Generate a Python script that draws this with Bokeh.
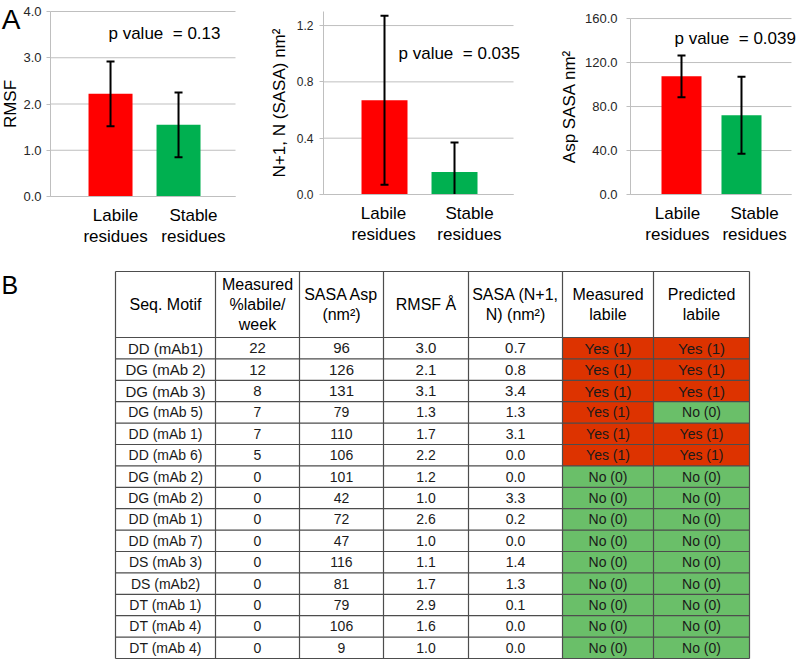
from bokeh.plotting import figure
from bokeh.layouts import column, row
from bokeh.models import (Range1d, FixedTicker, ColumnDataSource, Label,
                          NumeralTickFormatter, CustomJSTickFormatter)
from bokeh.embed import file_html
from bokeh.resources import INLINE
from bokeh.core.properties import value

# ---------------- data ----------------
categories = ["Labile\nresidues", "Stable\nresidues"]
bar_colors = ["#FF0000", "#00B050"]

rmsf_mean = [2.22, 1.55]
rmsf_err = [0.70, 0.70]
nsasa_mean = [0.67, 0.16]
nsasa_err = [0.60, 0.21]
asp_mean = [107.5, 72.0]
asp_err = [19.0, 35.0]

p_value_texts = ["p value\u00a0 = 0.13", "p value\u00a0 = 0.035", "p value\u00a0 = 0.039"]
y_titles = ["RMSF", "N+1, N (SASA) nm\u00b2", "Asp SASA nm\u00b2"]
yticks_rmsf = [0, 1, 2, 3, 4]
yticks_nsasa = [0, 0.4, 0.8, 1.2]
yticks_asp = [0, 40, 80, 120, 160]

headers = ["Seq. Motif", "Measured\n%labile/\nweek", "SASA Asp\n(nm\u00b2)", "RMSF \u00c5",
           "SASA (N+1,\nN) (nm\u00b2)", "Measured\nlabile", "Predicted\nlabile"]
motifs = ["DD (mAb1)", "DG (mAb 2)", "DG (mAb 3)", "DG (mAb 5)", "DD (mAb 1)", "DD (mAb 6)",
          "DG (mAb 2)", "DG (mAb 2)", "DD (mAb 1)", "DD (mAb 7)", "DS (mAb 3)", "DS (mAb2)",
          "DT (mAb 1)", "DT (mAb 4)", "DT (mAb 4)"]
pct_labile = [22, 12, 8, 7, 7, 5, 0, 0, 0, 0, 0, 0, 0, 0, 0]
sasa_asp = [96, 126, 131, 79, 110, 106, 101, 42, 72, 47, 116, 81, 79, 106, 9]
rmsf_vals = [3.0, 2.1, 3.1, 1.3, 1.7, 2.2, 1.2, 1.0, 2.6, 1.0, 1.1, 1.7, 2.9, 1.6, 1.0]
sasa_n = [0.7, 0.8, 3.4, 1.3, 3.1, 0.0, 0.0, 3.3, 0.2, 0.0, 1.4, 1.3, 0.1, 0.0, 0.0]
measured_labile = [1, 1, 1, 1, 1, 1, 0, 0, 0, 0, 0, 0, 0, 0, 0]
predicted_labile = [1, 1, 1, 0, 1, 1, 0, 0, 0, 0, 0, 0, 0, 0, 0]

FONT = "Liberation Sans"
GRID = "#bfbfbf"
TOP_H = 262


def bar_panel(width, xr, yr, axis_x, grid_end, bar_w, label_ticks, y_top,
              means, errs, yticks, ytitle, tick_fs, tick_standoff, title_standoff,
              pv_text, pv_x, pv_y):
    p = figure(width=width, height=TOP_H, output_backend="svg", toolbar_location=None,
               x_range=Range1d(*xr), y_range=Range1d(*yr), min_border=0)
    p.outline_line_color = None
    p.background_fill_color = "white"
    p.xgrid.visible = False
    p.ygrid.visible = False

    # horizontal grid lines between the y axis and the right end of the plot area
    p.segment(x0=[axis_x] * len(yticks), x1=[grid_end] * len(yticks), y0=yticks, y1=yticks,
              line_color=GRID, line_width=1)

    src = ColumnDataSource(dict(
        x=[1, 2], top=means,
        up=[m + e for m, e in zip(means, errs)],
        lo=[max(m - e, 0) for m, e in zip(means, errs)],
        color=bar_colors))
    p.vbar(x="x", top="top", bottom=0, width=bar_w, fill_color="color", line_color=None,
           source=src)
    p.segment(x0="x", y0="lo", x1="x", y1="up", line_width=2, line_color="black", source=src)
    p.scatter(x="x", y="up", marker="dash", size=8, line_width=2, line_color="black", source=src)
    lo_src = ColumnDataSource(dict(
        x=[1 + i for i, (m, e) in enumerate(zip(means, errs)) if m - e > 0],
        lo=[m - e for m, e in zip(means, errs) if m - e > 0]))
    p.scatter(x="x", y="lo", marker="dash", size=8, line_width=2, line_color="black",
              source=lo_src)

    # y axis at a fixed data location inside the plot area
    ya = p.yaxis[0]
    ya.fixed_location = axis_x
    ya.bounds = (0, y_top)
    ya.ticker = FixedTicker(ticks=yticks)
    ya.formatter = NumeralTickFormatter(format="0.0")
    ya.axis_line_color = GRID
    ya.major_tick_line_color = GRID
    ya.major_tick_out = 4
    ya.major_tick_in = 0
    ya.minor_tick_line_color = None
    ya.major_label_standoff = tick_standoff
    ya.major_label_text_font = FONT
    ya.major_label_text_font_size = tick_fs
    ya.major_label_text_color = "#262626"
    ya.axis_label = ytitle
    ya.axis_label_text_font = FONT
    ya.axis_label_text_font_size = "17px"
    ya.axis_label_text_font_style = "normal"
    ya.axis_label_text_color = "black"
    ya.axis_label_standoff = title_standoff

    # x axis at y = 0
    xa = p.xaxis[0]
    xa.fixed_location = 0
    xa.bounds = (axis_x, grid_end)
    xa.ticker = FixedTicker(ticks=label_ticks)
    xa.formatter = CustomJSTickFormatter(args=dict(labels=categories),
                                         code="return tick < 1.5 ? labels[0] : labels[1];")
    xa.axis_line_color = GRID
    xa.major_tick_line_color = None
    xa.minor_tick_line_color = None
    xa.major_label_standoff = 3
    xa.major_label_text_font = FONT
    xa.major_label_text_font_size = "17px"
    xa.major_label_text_color = "black"
    xa.major_label_text_line_height = 1.12

    p.add_layout(Label(x=pv_x, y=pv_y, text=pv_text, text_font=FONT, text_font_size="17px",
                       text_baseline="middle", text_align="left", text_color="black"))
    return p


f1 = bar_panel(265, (-0.618, 3.279), (-1.427, 4.238), 0.118, 2.838, 0.647, [1.074, 2.22],
               4.0, rmsf_mean, rmsf_err, yticks_rmsf, y_titles[0], "13px", 5, 0,
               p_value_texts[0], 0.97, 3.52)
f1.add_layout(Label(x=-0.6, y=4.173, text="A", text_font=FONT, text_font_size="28px",
                    text_baseline="top", text_align="left", text_color="black"))
f2 = bar_panel(295, (-0.7, 3.514), (-0.483, 1.378), 0.129, 2.843, 0.657, [0.986, 2.214],
               1.3, nsasa_mean, nsasa_err, yticks_nsasa, y_titles[1], "12px", 6, 5,
               p_value_texts[1], 1.2, 1.0)
f3 = bar_panel(242, (-1.017, 3.017), (-61.8, 176.4), 0.15, 2.833, 0.667, [0.933, 2.217],
               160.0, asp_mean, asp_err, yticks_asp, y_titles[2], "13px", 9, 3,
               p_value_texts[2], 0.883, 141.8)

# ---------------- table ----------------
col_edges = [115, 215, 299, 383, 468, 562, 653, 749]
T_TOP = 271
HEAD_H = 66
ROW_H = 21.4
n_rows = len(motifs)

t = figure(width=802, height=660 - TOP_H, output_backend="svg", toolbar_location=None,
           x_range=Range1d(0, 802), y_range=Range1d(660, TOP_H),
           x_axis_location=None, y_axis_location=None, min_border=0)
t.grid.visible = False
t.outline_line_color = None

row_top = [T_TOP + HEAD_H + i * ROW_H for i in range(n_rows)]
row_bot = [y + ROW_H for y in row_top]
row_mid = [y + ROW_H / 2 for y in row_top]

RED_CELL = "#DD3300"
GREEN_CELL = "#6ABF69"
cells = dict(left=[], right=[], top=[], bottom=[], color=[])
for ci, vals in ((5, measured_labile), (6, predicted_labile)):
    for i, v in enumerate(vals):
        cells["left"].append(col_edges[ci])
        cells["right"].append(col_edges[ci + 1])
        cells["top"].append(row_top[i])
        cells["bottom"].append(row_bot[i])
        cells["color"].append(RED_CELL if v else GREEN_CELL)
t.quad(left="left", right="right", top="top", bottom="bottom", fill_color="color",
       line_color=None, source=ColumnDataSource(cells))

# grid lines
h_ys = [T_TOP, T_TOP + HEAD_H] + row_bot
t.segment(x0=[col_edges[0]] * len(h_ys), x1=[col_edges[-1]] * len(h_ys), y0=h_ys, y1=h_ys,
          line_color="#4d4d4d", line_width=1.2)
t.segment(x0=col_edges, x1=col_edges, y0=[T_TOP] * len(col_edges),
          y1=[row_bot[-1]] * len(col_edges), line_color="#4d4d4d", line_width=1.2)

col_mid = [(a + b) / 2 for a, b in zip(col_edges[:-1], col_edges[1:])]

# header
t.text(x=col_mid, y=[T_TOP + HEAD_H / 2] * len(headers), text=headers,
       text_font=value(FONT), text_font_size="16px", text_align="center",
       text_baseline="middle", text_line_height=1.15, text_color="black")

# body
yn = lambda v: "Yes (1)" if v else "No (0)"
columns_txt = [motifs, [str(v) for v in pct_labile], [str(v) for v in sasa_asp],
               [f"{v:.1f}" for v in rmsf_vals], [f"{v:.1f}" for v in sasa_n],
               [yn(v) for v in measured_labile], [yn(v) for v in predicted_labile]]
bx, by, btxt, bfs = [], [], [], []
for ci, txts in enumerate(columns_txt):
    for i, s in enumerate(txts):
        bx.append(col_mid[ci])
        by.append(row_mid[i])
        btxt.append(s)
        bfs.append("15px" if i < 3 else "14px")
t.text(x="x", y="y", text="text", text_font_size="fs",
       source=ColumnDataSource(dict(x=bx, y=by, text=btxt, fs=bfs)),
       text_font=value(FONT), text_align="center", text_baseline="middle",
       text_color="#1a1a1a")

t.text(x=[1], y=[270], text=["B"], text_font=value(FONT), text_font_size="25px",
       text_baseline="top", text_color="black")

layout = column(row(f1, f2, f3), t)
open("out.html", "w").write(file_html(layout, INLINE))
